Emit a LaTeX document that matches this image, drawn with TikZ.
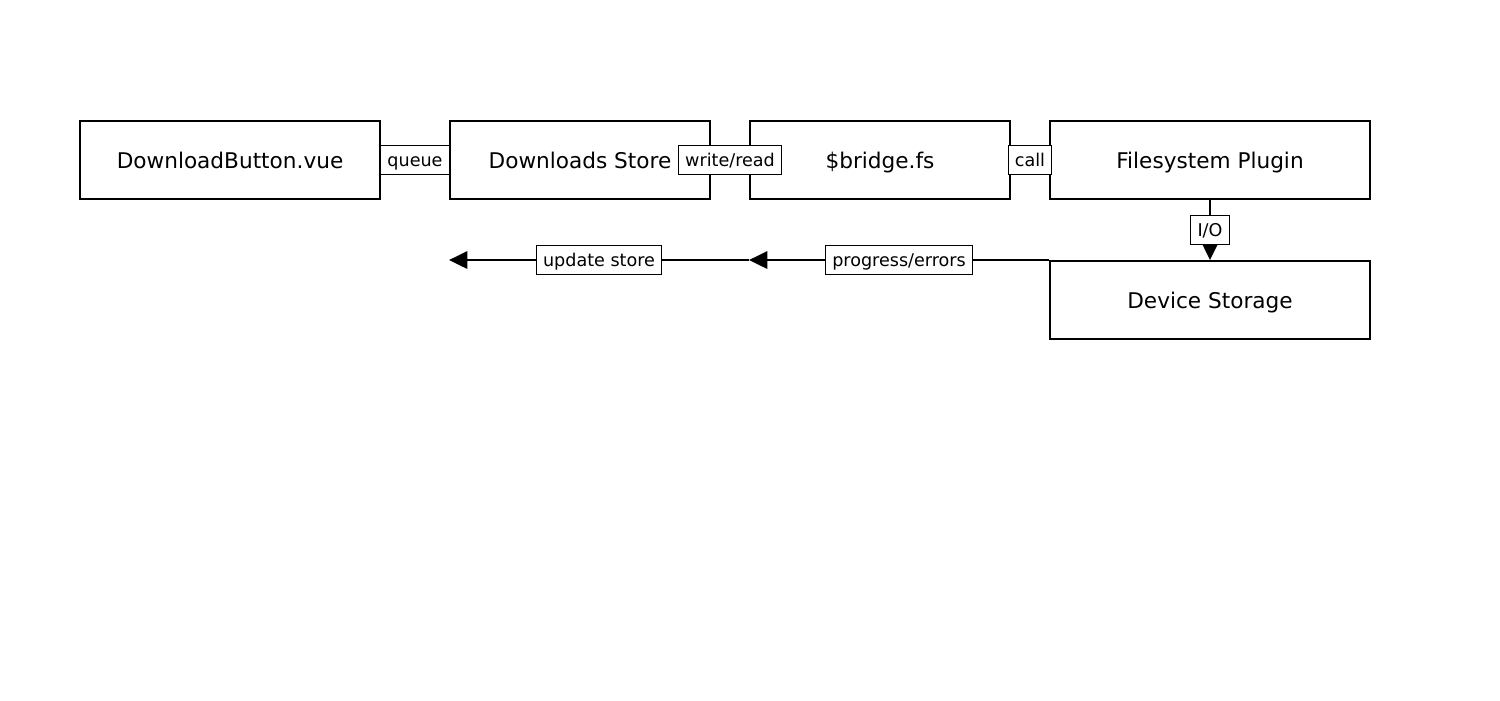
\documentclass[tikz,border=0pt]{standalone}
\usepackage{fontspec}
\setmainfont{DejaVu Sans}
\usetikzlibrary{arrows.meta}

\begin{document}
\begin{tikzpicture}
	\tikzset{boite/.style={draw=black, line width=1.1pt, minimum height=1.56cm, text centered, inner sep=0pt, text height=10pt, text depth=0pt, font=\fontsize{12.3}{14}\selectfont},
	etiquette/.style={draw=black, fill=white, line width=0.5pt, inner xsep=3.8pt, inner ysep=3pt, text height=8.8pt, text depth=1.6pt, font=\fontsize{10}{12}\selectfont},
	fleche/.style={line width=1.1pt, -{Triangle[length=10.5pt, width=10pt]}}};

	\useasboundingbox (0, 0) rectangle (30, -14);

	\foreach \nom/\x/\larg/\texte in {bouton/4.6/6/DownloadButton.vue, store/11.6/5.2/Downloads Store, bridge/17.6/5.2/\$bridge.fs, plugin/24.2/6.4/Filesystem Plugin}{
		\node[boite, minimum width=\larg*1cm] (\nom) at (\x, -3.2) {\texte};
	}

	\node[boite, minimum width=6.4cm] (stockage) at (24.2, -6) {Device Storage};

	\foreach \a/\b/\lab in {bouton/store/queue, store/bridge/{write/read}, bridge/plugin/call}{
		\draw[fleche] (\a) --node[etiquette] {\lab} (\b);
	}

	\draw[fleche] (plugin) --node[etiquette] {I/O} (stockage);

	% retour vers le store
	\coordinate (retour) at (bridge.west |- stockage.north);
	\coordinate (fin) at (store.west |- stockage.north);

	\draw[fleche] (stockage.north west) --node[etiquette] {progress/errors} (retour);
	\draw[fleche] (retour) --node[etiquette] {update store} (fin);

\end{tikzpicture}
\end{document}
